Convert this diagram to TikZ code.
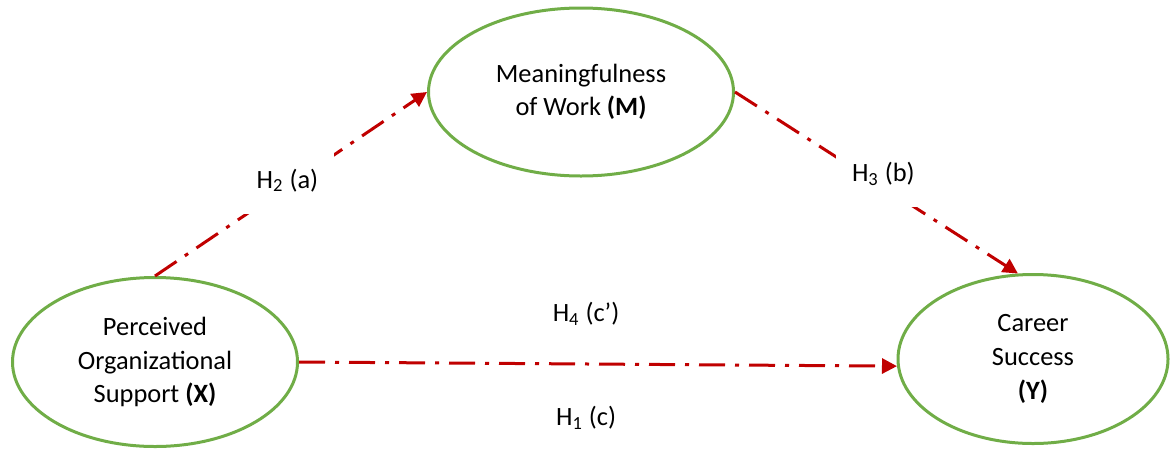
\documentclass[tikz,border=0pt]{standalone}
\usepackage{fontspec}
\setmainfont{Carlito}
\usepackage{xcolor}
\usepackage{tikz}
\usetikzlibrary{arrows.meta, shapes.geometric}

\definecolor{cgreen}{HTML}{70AD47}
\definecolor{cred}{HTML}{C00000}

\begin{document}
\begin{tikzpicture}[
  x=0.5pt, y=-0.5pt,
  construct/.style={ellipse, draw=cgreen, line width=1.5pt, inner sep=0pt, align=center, font=\fontsize{13.2}{16.8}\selectfont},
  hyp/.style={-{Triangle[length=7.5pt, width=7.5pt]}, draw=cred, line width=1.5pt, dash pattern=on 13pt off 5pt on 2pt off 5pt},
  lbl/.style={fill=white, inner xsep=8pt, inner ysep=11pt, font=\fontsize{13.2}{16.8}\selectfont}
]
  \useasboundingbox (0,0) rectangle (1170,450);

  % Constructs
  \node[construct, minimum width=142.5pt, minimum height=84.5pt] (X) at (155,362) {Perceived\\Organizational\\Support \textbf{(X)}};
  \node[construct, minimum width=152.5pt, minimum height=84pt] (M) at (581,92) {Meaningfulness\\of Work \textbf{(M)}};
  \node[construct, minimum width=135pt, minimum height=84.5pt] (Y) at (1033,359) {Career\\Success\\\textbf{(Y)}};

  % Indirect path
  \draw[hyp] (X.north) -- node[lbl, pos=0.52, xshift=-4.5pt] (h2) {H\textsubscript{2} (a)} (M.west);
  \draw[hyp] (M.east) -- node[lbl, pos=0.45, xshift=10.5pt] (h3) {H\textsubscript{3} (b)} (Y.100);

  % Direct path
  \draw[hyp] (X.east) -- node[lbl, pos=0.48, yshift=25pt, inner sep=0pt] (h4) {H\textsubscript{4} (c’)}
    node[lbl, pos=0.48, yshift=-27pt, inner sep=0pt] (h1) {H\textsubscript{1} (c)} (Y.183);

\end{tikzpicture}
\end{document}
